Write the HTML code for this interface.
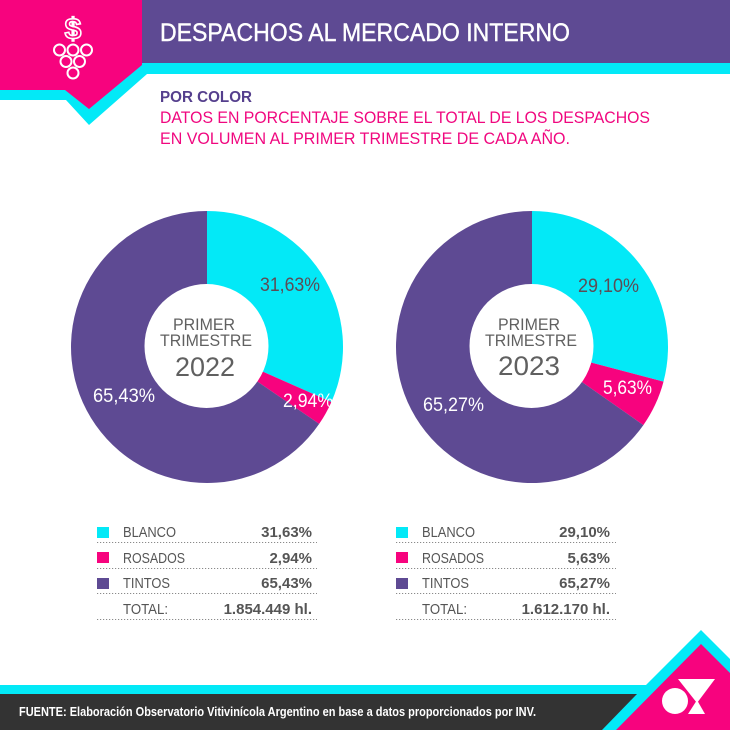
<!DOCTYPE html>
<html>
<head>
<meta charset="utf-8">
<style>
html,body{margin:0;padding:0;background:#fff;}
svg{display:block;}
text{font-family:"Liberation Sans",Arial,sans-serif;}
</style>
</head>
<body>
<svg width="730" height="730" viewBox="0 0 730 730" xmlns="http://www.w3.org/2000/svg">
  <rect width="730" height="730" fill="#ffffff"/>

  <!-- HEADER -->
  <polygon points="0,0 730,0 730,74 147,74 89,125 66,100 0,100" fill="#03e9f7"/>
  <rect x="142" y="0" width="588" height="63" fill="#5e4a93"/>
  <polygon points="0,0 142,0 142,65 89,109 65,90 0,90" fill="#f7037e"/>

  <!-- icon -->
  <text x="73" y="39" font-size="30" font-weight="bold" text-anchor="middle" fill="none" stroke="#ffffff" stroke-width="1.6">$</text>
  <g fill="none" stroke="#ffffff" stroke-width="2">
    <circle cx="59.5" cy="50" r="5.5"/>
    <circle cx="73" cy="50" r="5.5"/>
    <circle cx="86.5" cy="50" r="5.5"/>
    <circle cx="66" cy="61.5" r="5.5"/>
    <circle cx="79.5" cy="61.5" r="5.5"/>
    <circle cx="73" cy="73" r="5.5"/>
  </g>

  <text x="160" y="41" font-size="25" fill="#ffffff" stroke="#ffffff" stroke-width="0.4" textLength="410" lengthAdjust="spacingAndGlyphs">DESPACHOS AL MERCADO INTERNO</text>

  <text x="160" y="102" font-size="15.5" font-weight="bold" fill="#553f8d" textLength="92" lengthAdjust="spacingAndGlyphs">POR COLOR</text>
  <text x="160" y="123" font-size="17" fill="#f0077f" textLength="490" lengthAdjust="spacingAndGlyphs">DATOS EN PORCENTAJE SOBRE EL TOTAL DE LOS DESPACHOS</text>
  <text x="160" y="144" font-size="17" fill="#f0077f" textLength="410" lengthAdjust="spacingAndGlyphs">EN VOLUMEN AL PRIMER TRIMESTRE DE CADA AÑO.</text>

  <!-- PIE 2022 -->
  <path d="M207,347 L207,211 A136,136 0 0 1 331.41,401.96 Z" fill="#03e9f7"/>
  <path d="M207,347 L331.41,401.96 A136,136 0 0 1 319.17,423.91 Z" fill="#f7037e"/>
  <path d="M207,347 L319.17,423.91 A136,136 0 1 1 207,211 Z" fill="#5e4a93"/>
  <circle cx="206.5" cy="346" r="62" fill="#ffffff"/>
  <text x="204" y="330" font-size="17" text-anchor="middle" fill="#606060" textLength="62" lengthAdjust="spacingAndGlyphs">PRIMER</text>
  <text x="206" y="346" font-size="17" text-anchor="middle" fill="#606060" textLength="92" lengthAdjust="spacingAndGlyphs">TRIMESTRE</text>
  <text x="205" y="376" font-size="27" text-anchor="middle" fill="#606060" textLength="60" lengthAdjust="spacingAndGlyphs">2022</text>
  <text x="260" y="291" font-size="19" fill="#5d4c55" textLength="60" lengthAdjust="spacingAndGlyphs">31,63%</text>
  <text x="283" y="407" font-size="19" fill="#ffffff" textLength="50" lengthAdjust="spacingAndGlyphs">2,94%</text>
  <text x="93" y="402" font-size="19" fill="#ffffff" textLength="62" lengthAdjust="spacingAndGlyphs">65,43%</text>

  <!-- PIE 2023 -->
  <path d="M532,347 L532,211 A136,136 0 0 1 663.51,381.65 Z" fill="#03e9f7"/>
  <path d="M532,347 L663.51,381.65 A136,136 0 0 1 643.36,425.07 Z" fill="#f7037e"/>
  <path d="M532,347 L643.36,425.07 A136,136 0 1 1 532,211 Z" fill="#5e4a93"/>
  <circle cx="531.5" cy="346" r="62" fill="#ffffff"/>
  <text x="529" y="330" font-size="17" text-anchor="middle" fill="#606060" textLength="62" lengthAdjust="spacingAndGlyphs">PRIMER</text>
  <text x="531" y="346" font-size="17" text-anchor="middle" fill="#606060" textLength="92" lengthAdjust="spacingAndGlyphs">TRIMESTRE</text>
  <text x="529" y="375" font-size="27" text-anchor="middle" fill="#606060" textLength="62" lengthAdjust="spacingAndGlyphs">2023</text>
  <text x="578" y="292" font-size="19" fill="#5d4c55" textLength="61" lengthAdjust="spacingAndGlyphs">29,10%</text>
  <text x="603" y="394" font-size="19" fill="#ffffff" textLength="49" lengthAdjust="spacingAndGlyphs">5,63%</text>
  <text x="423" y="411" font-size="19" fill="#ffffff" textLength="61" lengthAdjust="spacingAndGlyphs">65,27%</text>

  <!-- LEGEND LEFT -->
  <rect x="97" y="527" width="12" height="11" fill="#03e9f7"/>
  <rect x="97" y="552" width="12" height="11" fill="#f7037e"/>
  <rect x="97" y="578" width="12" height="11" fill="#5e4a93"/>
  <g font-size="15" fill="#555555">
    <text x="123" y="537" textLength="53" lengthAdjust="spacingAndGlyphs">BLANCO</text>
    <text x="123" y="563" textLength="62" lengthAdjust="spacingAndGlyphs">ROSADOS</text>
    <text x="123" y="588" textLength="47" lengthAdjust="spacingAndGlyphs">TINTOS</text>
    <text x="123" y="614" textLength="45" lengthAdjust="spacingAndGlyphs">TOTAL:</text>
  </g>
  <g font-size="15" font-weight="bold" fill="#555555" text-anchor="end">
    <text x="312" y="537">31,63%</text>
    <text x="312" y="563">2,94%</text>
    <text x="312" y="588">65,43%</text>
    <text x="312" y="614">1.854.449 hl.</text>
  </g>
  <g stroke="#8a8a8a" stroke-width="1" stroke-dasharray="1.2,1.8">
    <line x1="97" y1="542.5" x2="317" y2="542.5"/>
    <line x1="97" y1="568.5" x2="317" y2="568.5"/>
    <line x1="97" y1="593.5" x2="317" y2="593.5"/>
    <line x1="97" y1="619.5" x2="317" y2="619.5"/>
  </g>

  <!-- LEGEND RIGHT -->
  <rect x="396" y="527" width="12" height="11" fill="#03e9f7"/>
  <rect x="396" y="552" width="12" height="11" fill="#f7037e"/>
  <rect x="396" y="578" width="12" height="11" fill="#5e4a93"/>
  <g font-size="15" fill="#555555">
    <text x="422" y="537" textLength="53" lengthAdjust="spacingAndGlyphs">BLANCO</text>
    <text x="422" y="563" textLength="62" lengthAdjust="spacingAndGlyphs">ROSADOS</text>
    <text x="422" y="588" textLength="47" lengthAdjust="spacingAndGlyphs">TINTOS</text>
    <text x="422" y="614" textLength="45" lengthAdjust="spacingAndGlyphs">TOTAL:</text>
  </g>
  <g font-size="15" font-weight="bold" fill="#555555" text-anchor="end">
    <text x="610" y="537">29,10%</text>
    <text x="610" y="563">5,63%</text>
    <text x="610" y="588">65,27%</text>
    <text x="610" y="614">1.612.170 hl.</text>
  </g>
  <g stroke="#8a8a8a" stroke-width="1" stroke-dasharray="1.2,1.8">
    <line x1="396" y1="542.5" x2="616" y2="542.5"/>
    <line x1="396" y1="568.5" x2="616" y2="568.5"/>
    <line x1="396" y1="593.5" x2="616" y2="593.5"/>
    <line x1="396" y1="619.5" x2="616" y2="619.5"/>
  </g>

  <!-- FOOTER -->
  <polygon points="0,685 646,685 701,630 730,659 730,730 0,730" fill="#03e9f7"/>
  <polygon points="0,694 637,694 602,730 0,730" fill="#333333"/>
  <polygon points="701,644 730,673 730,730 616,730" fill="#f7037e"/>
  <circle cx="675" cy="701" r="13" fill="#ffffff"/>
  <polygon points="678,679 715,679 697,703" fill="#ffffff"/>
  <polygon points="697,700 705,714 688,714" fill="#ffffff"/>

  <text x="19" y="716" font-size="13" font-weight="bold" fill="#ffffff" textLength="517" lengthAdjust="spacingAndGlyphs">FUENTE: Elaboración Observatorio Vitivinícola Argentino en base a datos proporcionados por INV.</text>
</svg>
</body>
</html>
